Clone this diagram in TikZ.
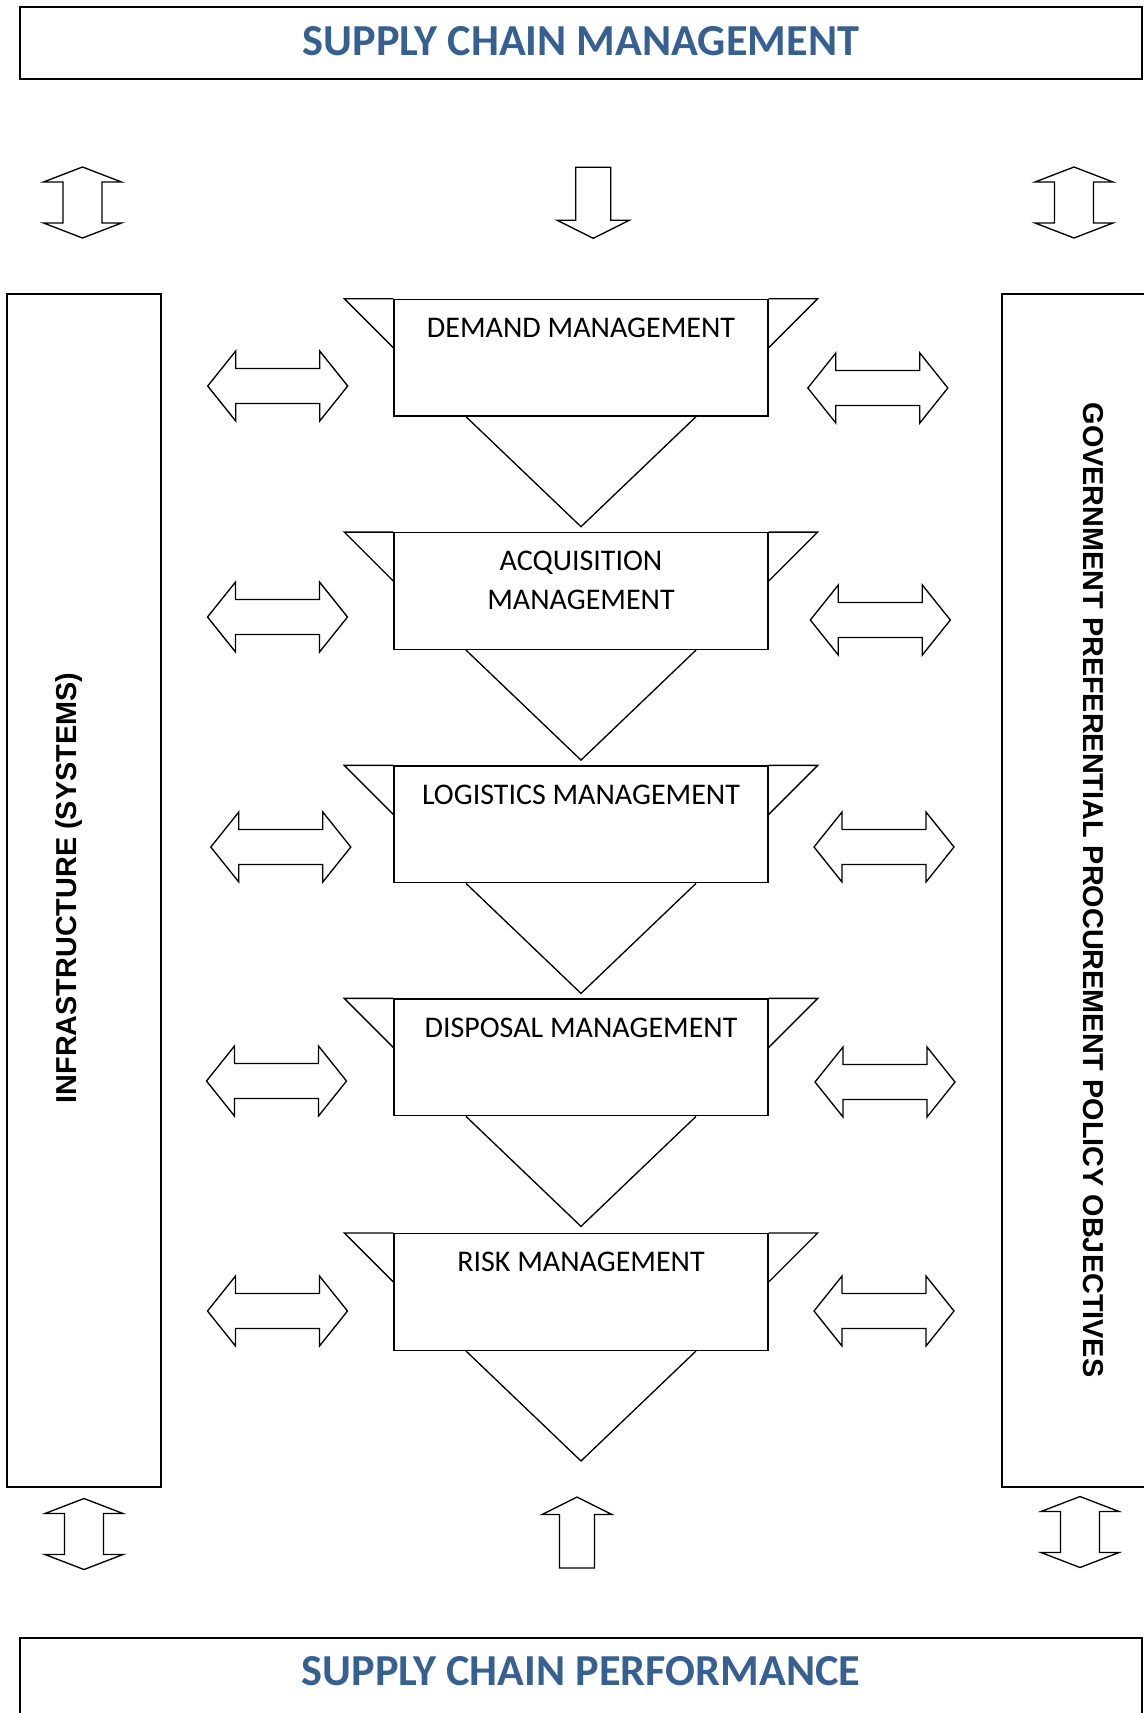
\documentclass[tikz,border=0pt]{standalone}
\usepackage{fontspec}
\newfontfamily\carlitofont{Carlito}
\newfontfamily\arialfont{Liberation Sans}
\usetikzlibrary{positioning}
\definecolor{titleblue}{RGB}{54,96,146}
\tikzset{outerbox/.style={draw, line width=1.5pt, inner sep=0pt},
  stage/.style={draw, line width=1pt, minimum width=280.5pt, minimum height=87.5pt, inner sep=0pt},
  stageline/.style={line width=1pt, line join=miter},
  stagetext/.style={font=\carlitofont\fontsize{22.5}{29.25}\selectfont, align=center, inner sep=0pt, anchor=north},
  titletext/.style={font=\carlitofont\bfseries\fontsize{33.2}{39}\selectfont, text=titleblue, inner sep=0pt},
  sidetext/.style={font=\arialfont\bfseries\fontsize{21.6}{26}\selectfont, inner sep=0pt},
  blockarrow/.style={draw, line width=1pt, line join=miter},
  pics/sidearrow/.style={code={
    \draw[blockarrow] (-70,0) -- (-42,-35) -- (-42,-17.5) -- (42,-17.5) -- (42,-35) -- (70,0)
      -- (42,35) -- (42,17.5) -- (-42,17.5) -- (-42,35) -- cycle;}},
  pics/flatarrow/.style={code={
    \draw[blockarrow] (0,-35.5) -- (39,-20.5) -- (19.5,-20.5) -- (19.5,20.5) -- (39,20.5) -- (0,35.5)
      -- (-39,20.5) -- (-19.5,20.5) -- (-19.5,-20.5) -- (-39,-20.5) -- cycle;}},
  pics/downarrow/.style={code={
    \draw[blockarrow] (-17.5,-35.5) -- (17.5,-35.5) -- (17.5,17.5) -- (36,17.5) -- (0,35.5)
      -- (-36,17.5) -- (-17.5,17.5) -- cycle;}},
  pics/uparrow/.style={code={
    \draw[blockarrow] (0,-35.5) -- (35,-18) -- (17.5,-18) -- (17.5,35.5) -- (-17.5,35.5)
      -- (-17.5,-18) -- (-35,-18) -- cycle;}}}

\begin{document}
\begin{tikzpicture}[x=0.75pt,y=-0.75pt]
   \useasboundingbox (0,0) rectangle (1144,1713);
   \node[outerbox, minimum width=841.4pt, minimum height=53.8pt] (scmbox) at (581.35,43.15) {};
   \node[titletext] (scm) at (581,41.5) {SUPPLY CHAIN MANAGEMENT};
   \node[outerbox, minimum width=841.4pt, minimum height=91.7pt] (scpbox) at (581.2,1698.9) {};
   \node[titletext] (scp) at (581,1671) {SUPPLY CHAIN PERFORMANCE};

   \node[outerbox, minimum width=116pt, minimum height=894.5pt] (infra) at (84,890.35) {};
   \node[sidetext, rotate=90] (infratext) at (69,888) {INFRASTRUCTURE (SYSTEMS)};
   \node[outerbox, minimum width=118.5pt, minimum height=894.5pt] (policy) at (1081,890.35) {};
   \node[sidetext, rotate=-90] (policytext) at (1093,890) {GOVERNMENT PREFERENTIAL PROCUREMENT POLICY OBJECTIVES};

   \pic at (82.5,202.5) {flatarrow};
   \pic at (593.3,202.8) {downarrow};
   \pic at (1074,202.5) {flatarrow};
   \pic at (84,1534) {flatarrow};
   \pic at (577,1532.5) {uparrow};
   \pic at (1080,1532) {flatarrow};

   \foreach \nm/\y/\txt in {demand/357.7/{DEMAND MANAGEMENT}, acquisition/591.1/{ACQUISITION\\MANAGEMENT},
     logistics/824.4/{LOGISTICS MANAGEMENT}, disposal/1057.4/{DISPOSAL MANAGEMENT}, risk/1292/{RISK MANAGEMENT}} {
    \node[stage] (\nm) at (581,\y) {};
    \node[stagetext] (\nm-text) at ([shift={(0,19)}]\nm.north) {\txt};
    \draw[stageline] (\nm.north west) -- ++(-49,0) -- ([shift={(0,49)}]\nm.north west);
    \draw[stageline] (\nm.north east) -- ++(49,0) -- ([shift={(0,49)}]\nm.north east);
    \draw[stageline] ([shift={(-115,0)}]\nm.south) -- ([shift={(0,110)}]\nm.south) -- ([shift={(115,0)}]\nm.south);
   }

   \foreach \x/\y in {277.7/386, 277.5/617, 280.8/847, 276.5/1081, 277.5/1311}
    \pic at (\x,\y) {sidearrow};
   \foreach \x/\y in {877.8/388, 880.3/620, 884/847, 885/1082, 884/1311}
    \pic at (\x,\y) {sidearrow};
  \end{tikzpicture}
\end{document}
